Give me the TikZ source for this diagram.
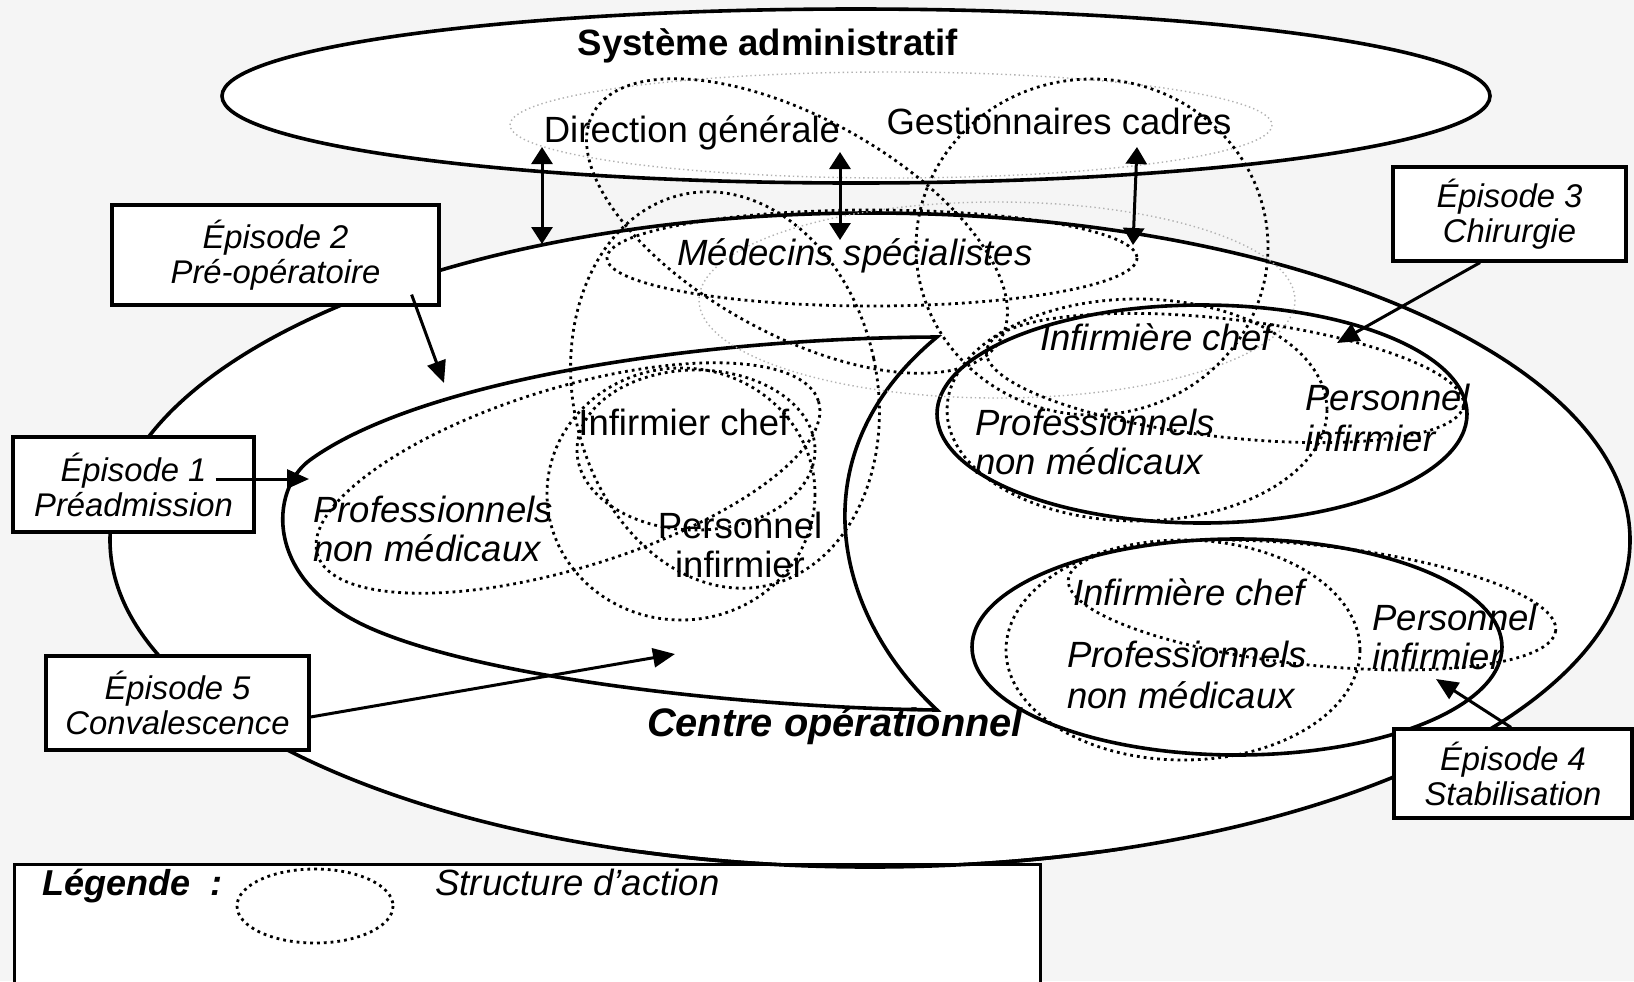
\documentclass[tikz,border=0pt]{standalone}
\usepackage{fontspec}
\setmainfont{Liberation Sans}
\usetikzlibrary{arrows.meta}

\begin{document}
\begin{tikzpicture}[x=0.5pt,y=-0.5pt,
  rim/.style={line width=1.8pt},
  struct/.style={line width=1.4pt,dash pattern=on 1.4pt off 2pt},
  ghost/.style={draw=black!30,line width=0.7pt,dash pattern=on 0.7pt off 1.5pt},
  lab/.style={inner sep=0pt,font=\fontsize{18.25}{19.5}\selectfont},
  ilab/.style={inner sep=0pt,font=\fontsize{18.25}{19.5}\selectfont\itshape},
  blab/.style={inner sep=0pt,font=\fontsize{18.3}{19.5}\selectfont\bfseries},
  bilab/.style={inner sep=0pt,font=\fontsize{18}{19.5}\selectfont\bfseries\itshape},
  epbox/.style={draw,fill=white,line width=1.6pt,inner sep=0pt,align=center,
    font=\fontsize{16.4}{17.5}\selectfont\itshape},
  link/.style={line width=1.5pt,-{Triangle[length=11pt,width=9.5pt]}},
  twoway/.style={line width=1.5pt,{Triangle[length=8.5pt,width=10.5pt]}-{Triangle[length=8.5pt,width=10.5pt]}}
]
\useasboundingbox (0,0) rectangle (1634,981);
\fill[black!4] (0,0) rectangle (1634,981);
\clip (0,0) rectangle (1634,981);

\draw[rim,fill=white] (856,96) ellipse (634 and 87);
\draw[rim,fill=white] (870,540) ellipse (760 and 327);

\node[draw,fill=white,line width=1.6pt,inner sep=0pt,anchor=north west,
  minimum width=513pt,minimum height=70pt] (legend) at (13,863) {};
\begin{scope}
  \clip (0,850) rectangle (1634,900);
  \draw[rim] (870,540) ellipse (760 and 327);
\end{scope}

\draw[rim] (937,337) .. controls (700,338) and (420,380) .. (310,460)
  .. controls (270,489) and (262,580) .. (370,628)
  .. controls (490,681) and (760,708) .. (937,710)
  .. controls (835,615) and (795,455) .. (937,337) -- cycle;
\draw[rim] (1202,414) ellipse (265 and 109);
\draw[rim] (1237,647) ellipse (265 and 108);

\draw[ghost] (891,125) ellipse (381 and 53);
\draw[ghost] (997,300) ellipse (298 and 98);
\foreach \cx/\cy/\rx/\ry/\ang in {797/226/233/108/-29, 872/258/265/48/0,
  1092/247/176/168/0, 725/390/152/200/12, 696/450/119/80/0, 681/494/134/126/0,
  568/478/262/90/17, 1137/410/190/111/0, 1225/378/240/59/-6.5,
  1183/650/177/110/0, 1312/605/245/60/-6}
  \draw[struct,rotate around={\ang:(\cx,\cy)}] (\cx,\cy) ellipse [x radius=\rx, y radius=\ry];

\node[blab,anchor=base] (sysadm) at (768,55) {Système administratif};
\node[lab,anchor=base] (dirgen) at (692,142) {Direction générale};
\node[lab,anchor=base] (gestcad) at (1059,134) {Gestionnaires cadres};
\node[ilab,anchor=base] (medspe) at (855,265) {Médecins spécialistes};

\node[lab,anchor=base west] (infchefA) at (578,435) {Infirmier chef};
\node[ilab,align=left,anchor=north west] (profA) at (313,495.5) {Professionnels\\non médicaux};
\node[lab,align=center,anchor=north] (persA) at (740,511.5) {Personnel\\infirmier};

\node[ilab,anchor=base west] (infchefB) at (1040,350) {Infirmière chef};
\node[ilab,align=left,anchor=north west] (profB) at (975,408.5) {Professionnels\\non médicaux};
\node[ilab,align=left,anchor=north west] (persB) at (1305,383.5) {Personnel\\[1pt]infirmier};

\node[ilab,anchor=base west] (infchefC) at (1073,605) {Infirmière chef};
\node[ilab,align=left,anchor=north west] (profC) at (1067,640.5) {Professionnels\\[1pt]non médicaux};
\node[ilab,align=left,anchor=north west] (persC) at (1372,603.5) {Personnel\\infirmier};

\node[bilab,font=\fontsize{19.9}{22}\selectfont\bfseries\itshape,anchor=base] (centre) at (835,736) {Centre opérationnel};

\coordinate (upA) at (542,147);
\coordinate (downA) at (542,244);
\coordinate (upB) at (840,152);
\coordinate (downB) at (840,240);
\coordinate (upC) at (1137,147);
\coordinate (downC) at (1133,245);
\draw[twoway] (upA) -- (downA);
\draw[twoway] (upB) -- (downB);
\draw[twoway] (upC) -- (downC);

\node[epbox,minimum width=120.5pt,minimum height=47.5pt] (epone) at (133.5,484.5) {Épisode 1\\Préadmission};
\node[epbox,minimum width=163.5pt,minimum height=50pt] (eptwo) at (275.5,255) {Épisode 2\\Pré-opératoire};
\node[epbox,minimum width=116.5pt,minimum height=47pt] (epthree) at (1509.5,214) {Épisode 3\\Chirurgie};
\node[epbox,minimum width=119pt,minimum height=44.5pt] (epfour) at (1513,773.5) {Épisode 4\\Stabilisation};
\node[epbox,minimum width=131.5pt,minimum height=47pt] (epfive) at (177.5,703) {Épisode 5\\Convalescence};

\coordinate (tipone) at (309,479);
\coordinate (tiptwo) at (444,383);
\coordinate (tipthree) at (1337,343);
\coordinate (tipfour) at (1436,679);
\coordinate (tipfive) at (675,654);
\draw[link] ([xshift=-20pt,yshift=2.75pt]epone.east) -- (tipone);
\draw[link] ([xshift=-14.5pt,yshift=6pt]eptwo.south east) -- (tiptwo);
\draw[link] ([xshift=-14.75pt]epthree.south) -- (tipthree);
\draw[link] ([xshift=-1pt]epfour.north) -- (tipfour);
\draw[link] ([yshift=-7pt]epfive.east) -- (tipfive);

\node[bilab,anchor=base west] (legtitle) at (42,895) {Légende~ :};
\draw[struct] (315,906) ellipse (78 and 37);
\node[ilab,anchor=base west] (legtext) at (435,895) {Structure d’action};
\end{tikzpicture}
\end{document}
